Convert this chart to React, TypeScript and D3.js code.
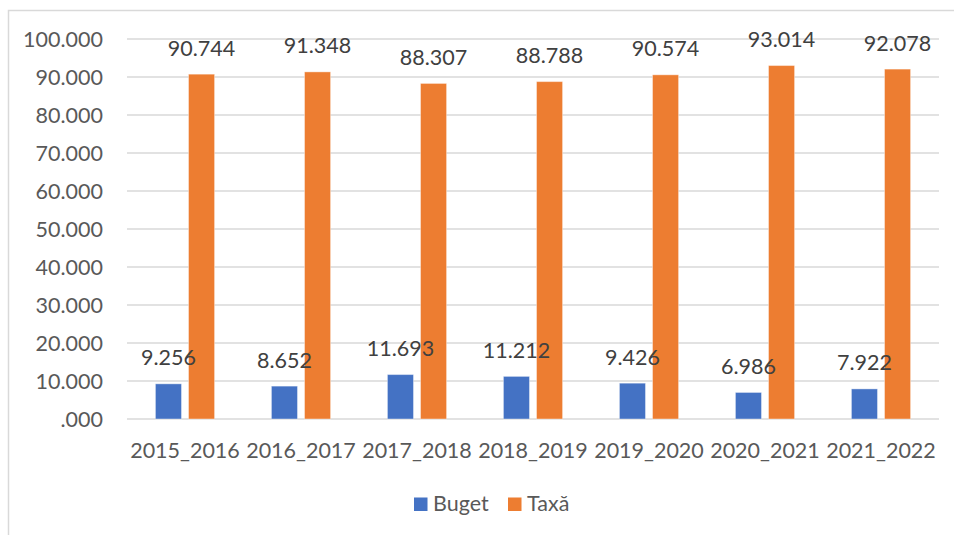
import React from "react";
import * as d3 from "d3";

const categories = ["2015_2016", "2016_2017", "2017_2018", "2018_2019", "2019_2020", "2020_2021", "2021_2022"];
const seriesNames = ["Buget", "Taxă"];
const buget = [9256, 8652, 11693, 11212, 9426, 6986, 7922];
const taxa = [90744, 91348, 88307, 88788, 90574, 93014, 92078];
const yTicks = [0, 10000, 20000, 30000, 40000, 50000, 60000, 70000, 80000, 90000, 100000];
const colors = ["#4472C4", "#ED7D31"];

const W = 954;
const H = 535;
const FONT = "Lato, 'Open Sans', sans-serif";
const TEXT = "#595959";
const FS = 21.5;

const locale = d3.formatLocale({ decimal: ",", thousands: ".", grouping: [3], currency: ["", ""] });
const fmtNum = locale.format(",d");
const fmt = (v: number) => (v === 0 ? ".000" : fmtNum(v));

export default function App() {
  const left = 127, right = 939, top = 39, bottom = 419;
  const x = d3.scaleBand<string>().domain(categories).range([left, right]).paddingInner(0.49).paddingOuter(0.245);
  const inner = d3.scaleBand<string>().domain(seriesNames).range([0, x.bandwidth()]).paddingInner(0.212);
  const y = d3.scaleLinear().domain([0, 100000]).range([bottom, top]);
  const series = [buget, taxa];
  const bw = inner.bandwidth();
  const pos = (si: number, i: number) => (x(categories[i]) ?? 0) + (inner(seriesNames[si]) ?? 0);

  return (
    <svg width={W} height={H} style={{ position: "absolute", left: 0, top: 0, background: "#fff" }} fontFamily={FONT}>
      <rect x={8.5} y={10.5} width={W} height={H} fill="none" stroke="#D9D9D9" strokeWidth={1.5} />
      {yTicks.map((t) => (
        <g key={t}>
          <line x1={left} x2={right} y1={y(t)} y2={y(t)} stroke="#D9D9D9" strokeWidth={1.5} />
          <text x={103} y={y(t)} dy="0.36em" textAnchor="end" fontSize={FS} fill={TEXT}>
            {fmt(t)}
          </text>
        </g>
      ))}
      {series.map((vals, si) =>
        vals.map((v, i) => (
          <rect key={`b${si}-${i}`} x={pos(si, i)} y={y(v)} width={bw} height={y(0) - y(v)} fill={colors[si]} stroke="#fff" strokeOpacity={0.4} strokeWidth={1} />
        ))
      )}
      {series.map((vals, si) =>
        vals.map((v, i) => (
          <text key={`l${si}-${i}`} x={pos(si, i) + bw / 2} y={y(v) - 18.5} textAnchor="middle" fontSize={FS} fill="#404040">
            {fmt(v)}
          </text>
        ))
      )}
      {categories.map((c) => (
        <text key={c} x={(x(c) ?? 0) + x.bandwidth() / 2} y={458} textAnchor="middle" fontSize={FS} fill={TEXT}>
          {c}
        </text>
      ))}
      <g>
        <rect x={414} y={497.5} width={13.5} height={13.5} fill={colors[0]} />
        <text x={433} y={511} fontSize={FS} fill={TEXT}>{seriesNames[0]}</text>
        <rect x={508} y={497.5} width={13.5} height={13.5} fill={colors[1]} />
        <text x={527} y={511} fontSize={FS} fill={TEXT}>{seriesNames[1]}</text>
      </g>
    </svg>
  );
}
